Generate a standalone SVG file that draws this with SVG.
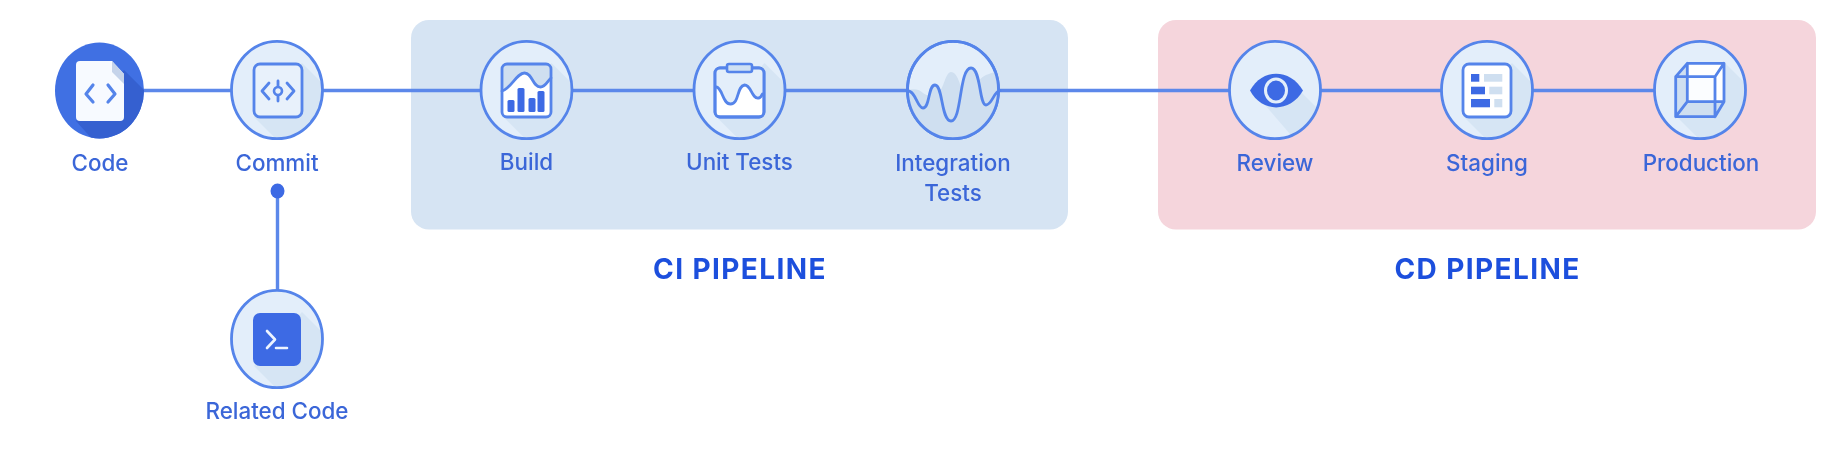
<svg xmlns="http://www.w3.org/2000/svg" xmlns:xlink="http://www.w3.org/1999/xlink" width="1833" height="455" viewBox="0 0 1833 455">
<style>
.lbl{font-family:"Inter","Liberation Sans",sans-serif;font-size:22.4px;font-weight:500;fill:#3a66d8;text-anchor:middle}
.head{font-family:"Inter","Liberation Sans",sans-serif;font-size:28px;font-weight:700;letter-spacing:1.4px;fill:#1f4fdd;text-anchor:middle}
.conn{stroke:#5c88ea;stroke-width:3.4;fill:none}
.shade{fill:#d6e5f4}
.ico{fill:#fff;stroke:#5484ea;stroke-width:2.8}
.ln{fill:none;stroke:#5484ea;stroke-width:2.8;stroke-linecap:round;stroke-linejoin:round}
.blue{fill:#3d6be4}
.pale{fill:#cfdff0}
</style>
<defs>
<filter id="soft" filterUnits="userSpaceOnUse" x="0" y="0" width="1833" height="455"><feGaussianBlur stdDeviation="0.7"/></filter>
<clipPath id="disc"><ellipse rx="45.5" ry="48.7"/></clipPath>
<clipPath id="codeclip"><ellipse cx="99.5" cy="90.5" rx="44.5" ry="48"/></clipPath>
<g id="plain">
<ellipse rx="45.5" ry="48.7" fill="#e3eefa" stroke="#5484ea" stroke-width="2.8"/>
</g>
<g id="base">
<ellipse rx="45.5" ry="48.7" fill="#e3eefa"/>
<polygon class="shade" clip-path="url(#disc)" points="25,-27 80,28 80,80 30,80 -23,27"/>
<ellipse rx="45.5" ry="48.7" fill="none" stroke="#5484ea" stroke-width="2.8"/>
</g>
</defs>
<rect width="1833" height="455" fill="#fff"/>
<g filter="url(#soft)">
<g id="panels">
<rect x="411" y="20" width="657" height="209.5" rx="18" fill="#d6e4f3"/>
<rect x="1158" y="20" width="658" height="209.5" rx="18" fill="#f5d5dc"/>
</g>
<g id="connectors">
<path class="conn" d="M99.5 90.5H1700"/>
<path class="conn" d="M277.5 191V290"/>
<ellipse cx="277.5" cy="191" rx="7" ry="7.5" class="blue"/>
</g>
<g id="code">
<ellipse cx="99.5" cy="90.5" rx="44.5" ry="48" fill="#3f6fe3"/>
<polygon clip-path="url(#codeclip)" points="124,70 170,116 170,170 120,170 76,121" fill="#3560d0"/>
<path d="M80 61H112L124 74V117a4 4 0 0 1-4 4H80a4 4 0 0 1-4-4V65a4 4 0 0 1 4-4Z" fill="#f7faff"/>
<path d="M112 61L124 74V84L112 72Z" fill="#c5d3ea"/>
<path d="M93 85L86 94L93 102M108 85L115 94L108 102" fill="none" stroke="#5484ea" stroke-width="3.2" stroke-linecap="round" stroke-linejoin="round"/>
<text class="lbl" x="100" y="171">Code</text>
</g>
<g id="commit" transform="translate(277,90)">
<use xlink:href="#base" href="#base"/>
<rect x="-23" y="-26" width="48" height="53" rx="6" fill="#e8f1fb" stroke="#5484ea" stroke-width="2.8"/>
<path class="ln" d="M-8 -7L-15 1L-8 9M10 -7L17 1L10 9M1 -9V11"/>
<ellipse cx="1" cy="1" rx="4" ry="4" fill="#e8f1fb" stroke="#5484ea" stroke-width="2.6"/>
<text class="lbl" x="0" y="81">Commit</text>
</g>
<g id="related" transform="translate(277,339)">
<use xlink:href="#base" href="#base"/>
<rect x="-24" y="-26" width="48" height="53" rx="7" class="blue"/>
<path d="M-10 -8L-2 0.5L-10 9M-1 9H10" fill="none" stroke="#eef4ff" stroke-width="2.6" stroke-linecap="round" stroke-linejoin="round"/>
<text class="lbl" x="0" y="80">Related Code</text>
</g>
<g id="build" transform="translate(526.5,90)">
<use xlink:href="#base" href="#base"/>
<rect x="-24.5" y="-26" width="49" height="53" rx="5" class="pale"/>
<path d="M-24.5 1C-15 -2 -10 -17 -2 -17C6 -17 6 -3 14 -3C19 -3 21 -9 24.5 -12V23a4 4 0 0 1-4 4H-20a4 4 0 0 1-4-4Z" fill="#fff"/>
<path class="ln" d="M-24.5 1C-15 -2 -10 -17 -2 -17C6 -17 6 -3 14 -3C19 -3 21 -9 24.5 -12"/>
<rect x="-19" y="10" width="7" height="12" rx="1.5" class="blue"/>
<rect x="-9" y="-2" width="7" height="24" rx="1.5" class="blue"/>
<rect x="2" y="8" width="7" height="14" rx="1.5" class="blue"/>
<rect x="11" y="1" width="7" height="21" rx="1.5" class="blue"/>
<rect x="-24.5" y="-26" width="49" height="53" rx="5" fill="none" stroke="#5484ea" stroke-width="2.8"/>
<text class="lbl" x="0" y="80">Build</text>
</g>
<g id="unit-tests" transform="translate(739.5,90)">
<use xlink:href="#base" href="#base"/>
<rect x="-24.5" y="-22" width="49" height="49" rx="5" class="ico"/>
<path d="M-23 -3C-17 -2 -17 14 -9 14C0 14 -3 -4 5 -5C12 -5 12 9 19 8C21 8 22 6 23 4V-21H-23Z" fill="#e3eefa"/>
<path class="ln" d="M-23 -3C-17 -2 -17 14 -9 14C0 14 -3 -4 5 -5C12 -5 12 9 19 8C21 8 22 6 23 4"/>
<rect x="-24.5" y="-22" width="49" height="49" rx="5" fill="none" stroke="#5484ea" stroke-width="2.8"/>
<rect x="-12.5" y="-26" width="25" height="8" rx="2" fill="#cfe0f3" stroke="#5484ea" stroke-width="2.6"/>
<text class="lbl" x="0" y="80">Unit Tests</text>
</g>
<g id="integration-tests" transform="translate(953,90)">
<use xlink:href="#plain" href="#plain"/>
<path clip-path="url(#disc)" class="pale" d="M-46 0C-40 -1 -35 -2 -30 3C-24 8 -20 4 -14 2C-9 -2 -8 -17 -2 -18C4 -18 6 -8 10 2C18 8 22 -10 33 -15C38 -17 42 -18 46 -20V60H-46Z"/>
<path clip-path="url(#disc)" class="pale" d="M-46 .7C-37 .7 -36 18 -30 18C-23 18 -25 -5 -18 -5C-10 -5 -12 31 -2 31C9 31 6 -22 18 -22C28 -22 26 15 33 15C39 15 41 1 47 .7V60H-46Z"/>
<ellipse rx="45.5" ry="48.7" fill="none" stroke="#5484ea" stroke-width="2.8"/>
<path class="ln" d="M-46 .7C-37 .7 -36 18 -30 18C-23 18 -25 -5 -18 -5C-10 -5 -12 31 -2 31C9 31 6 -22 18 -22C28 -22 26 15 33 15C39 15 41 1 47 .7"/>
<text class="lbl" x="0" y="81">Integration</text>
<text class="lbl" x="0" y="111">Tests</text>
</g>
<g id="review" transform="translate(1275,90)">
<ellipse rx="45.5" ry="48.7" fill="#e3eefa"/>
<polygon class="shade" clip-path="url(#disc)" points="26,2 80,56 80,80 46,80 -10,15"/>
<ellipse rx="45.5" ry="48.7" fill="none" stroke="#5484ea" stroke-width="2.8"/>
<path d="M-25 .5C-13 -22 15 -22 28 .5C15 23 -13 23 -25 .5Z" class="blue"/>
<ellipse cx="1" cy="0.5" rx="10.5" ry="11.5" fill="#3d6be4" stroke="#e3eefa" stroke-width="3"/>
<text class="lbl" x="0" y="81">Review</text>
</g>
<g id="staging" transform="translate(1487,90)">
<use xlink:href="#base" href="#base"/>
<rect x="-24" y="-26" width="48" height="53" rx="6" class="ico"/>
<rect x="-16" y="-16" width="8.3" height="7.7" class="blue"/>
<rect x="-16" y="-3.3" width="14" height="7.6" class="blue"/>
<rect x="-16" y="9" width="19" height="8.3" class="blue"/>
<rect x="-3" y="-16" width="18.3" height="7.7" class="pale"/>
<rect x="2.3" y="-3.3" width="13" height="7.6" class="pale"/>
<rect x="7.3" y="9" width="8" height="8.3" class="pale"/>
<text class="lbl" x="0" y="81">Staging</text>
</g>
<g id="production" transform="translate(1700,90)">
<use xlink:href="#base" href="#base"/>
<polygon points="-12.7,-26.7 24,-26.7 24,11.7 15,26.7 15,-13.3 -12.7,-13.3" fill="#fff"/>
<rect x="-12.7" y="-13.3" width="27.7" height="25" fill="#fbfdff"/>
<polygon points="-24.3,-13.3 -12.7,-26.7 -12.7,11.7 -24.3,26.7" class="pale"/>
<polygon points="-24.3,26.7 -12.7,11.7 24,11.7 15,26.7" class="pale"/>
<path class="ln" d="M-12.7 -26.7H24V11.7H-12.7ZM-24.3 -13.3H15V26.7H-24.3ZM-24.3 -13.3L-12.7 -26.7M15 -13.3L24 -26.7M15 26.7L24 11.7M-24.3 26.7L-12.7 11.7"/>
<text class="lbl" x="1" y="81">Production</text>
</g>
<g id="ci-pipeline-label"><text class="head" x="740" y="279">CI PIPELINE</text></g>
<g id="cd-pipeline-label"><text class="head" x="1487.5" y="279">CD PIPELINE</text></g>
</g>
</svg>
